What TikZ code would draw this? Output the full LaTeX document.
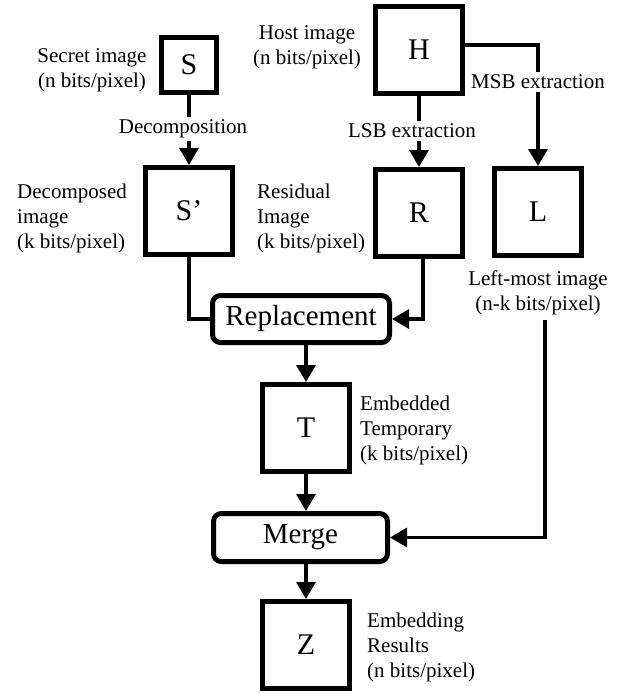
\documentclass[tikz,border=0pt]{standalone}
\usepackage{fontspec}
\setmainfont{Liberation Serif}
\usetikzlibrary{arrows.meta}
\begin{document}
\begin{tikzpicture}[x=1pt,y=-1pt,
  box/.style={draw, line width=5pt, minimum width=87pt, minimum height=87pt, inner sep=0pt, font=\fontsize{30}{34}\selectfont},
  smallbox/.style={box, minimum width=55pt, minimum height=55pt},
  proc/.style={draw, line width=5pt, rounded corners=8pt, inner sep=0pt, font=\fontsize{29}{33}\selectfont},
  lab/.style={inner sep=0pt, font=\fontsize{21}{25}\selectfont},
  cutlab/.style={lab, fill=white, inner sep=3pt},
  conn/.style={line width=3.2pt},
  arr/.style={conn, -{Triangle[length=17pt,width=19pt]}},
  ]
\useasboundingbox (0,0) rectangle (619,694);
% boxes
\node[smallbox] (S) at (189,65) {S};
\node[box] (Sp) at (189,211) {S’};
\node[box] (H) at (419,50) {H};
\node[box] (R) at (419,213) {R};
\node[box] (L) at (538,212) {L};
\node[proc, minimum width=177pt, minimum height=47pt] (Rep) at (301,319) {Replacement};
\node[box] (T) at (306,428) {T};
\node[proc, minimum width=174pt, minimum height=48pt] (Mer) at (300.5,537.5) {Merge};
\node[box] (Z) at (306,645) {Z};
% labels
\node[lab, align=center] (Slab) at (92,70) {Secret image\\(n bits/pixel)};
\node[lab, align=center] (Hlab) at (307,47) {Host image\\(n bits/pixel)};
\node[lab, align=left, anchor=west] (Splab) at (17,218) {Decomposed\\image\\(k bits/pixel)};
\node[lab, align=left, anchor=west] (Rlab) at (257,218) {Residual\\Image\\(k bits/pixel)};
\node[lab, align=center] (Llab) at (538,293) {Left-most image\\(n-k bits/pixel)};
\node[lab, align=left, anchor=west] (Tlab) at (360,430) {Embedded\\Temporary\\(k bits/pixel)};
\node[lab, align=left, anchor=west] (Zlab) at (367,647) {Embedding\\Results\\(n bits/pixel)};
% connectors
\draw[arr] (S) -- (Sp);
\node[cutlab] (dec) at (183,129) {Decomposition};
\draw[arr] (H) -- (R);
\node[cutlab] (lsb) at (412,131) {LSB extraction};
\draw[arr] ([yshift=5pt]H.east) -| (L);
\node[cutlab] (msb) at (538,82) {MSB extraction};
\draw[conn] (Sp.south) |- (Rep.west);
\draw[arr] ([xshift=4pt]R.south) |- (Rep.east);
\draw[arr] (T.north |- Rep.south) -- (T.north);
\draw[arr] (T.south) -- (T.south |- Mer.north);
\draw[arr] (Z.north |- Mer.south) -- (Z.north);
\draw[arr] ([xshift=7pt,yshift=-5pt]Llab.south) |- (Mer.east);
\end{tikzpicture}
\end{document}
